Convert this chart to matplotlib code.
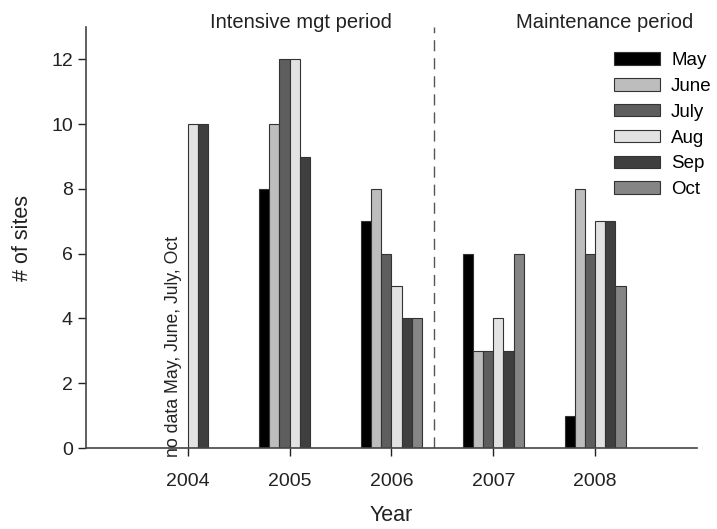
import numpy as np
import matplotlib
matplotlib.use('Agg')
import matplotlib.pyplot as plt

plt.rcParams['font.family'] = ['Liberation Sans', 'DejaVu Sans']

years = ['2004', '2005', '2006', '2007', '2008']
months = ['May', 'June', 'July', 'Aug', 'Sep', 'Oct']
nan = np.nan
# number of sites per month, per year (nan = no data)
may = [nan, 8, 7, 6, 1]
june = [nan, 10, 8, 3, 8]
july = [nan, 12, 6, 3, 6]
aug = [10, 12, 5, 4, 7]
sep = [10, 9, 4, 3, 7]
oct_ = [nan, nan, 4, 6, 5]
series = [may, june, july, aug, sep, oct_]
colors = ['#000000', '#bdbdbd', '#5e5e5e', '#e2e2e2', '#3f3f3f', '#858585']

fig = plt.figure(figsize=(7.17, 5.29), dpi=100)
ax = fig.add_axes([0.120, 0.153, 0.852, 0.796])

x = np.arange(len(years))
w = 0.1
for i, (vals, c) in enumerate(zip(series, colors)):
    ax.bar(x + (i - 2.5) * w, vals, width=w, color=c, edgecolor='#333333',
           linewidth=0.8, label=months[i])

# divider between the two periods
ax.axvline(2.42, color='#555555', linestyle=(0, (8, 5)), linewidth=1.0)

ax.text(1.11, 13.15, 'Intensive mgt period', ha='center', va='center',
        fontsize=14.5, color='#222222', clip_on=False)
ax.text(4.09, 13.15, 'Maintenance period', ha='center', va='center',
        fontsize=14.5, color='#222222', clip_on=False)
ax.text(-0.14, -0.28, 'no data May, June, July, Oct', rotation=90,
        ha='center', va='bottom', fontsize=12.7, color='#222222')

ax.set_xlim(-1, 5)
ax.set_ylim(0, 13)
ax.set_xticks(x)
ax.set_xticklabels(years)
ax.set_yticks(range(0, 13, 2))
ax.tick_params(labelsize=14, colors='#222222', length=6, width=1)
ax.tick_params(axis='x', pad=12)
ax.spines['top'].set_visible(False)
ax.spines['right'].set_visible(False)
for s in ['left', 'bottom']:
    ax.spines[s].set_color('#444444')
    ax.spines[s].set_linewidth(1.2)

ax.set_xlabel('Year', fontsize=15.5, color='#222222', labelpad=11)
ax.set_ylabel('# of sites', fontsize=15.5, color='#222222', labelpad=13)

ax.legend(loc='upper left', bbox_to_anchor=(0.852, 0.958), frameon=False,
          borderaxespad=0, fontsize=13.5, handlelength=2.45, handleheight=0.64,
          labelspacing=0.47, handletextpad=0.6)

fig.savefig('out.png', dpi=100)
